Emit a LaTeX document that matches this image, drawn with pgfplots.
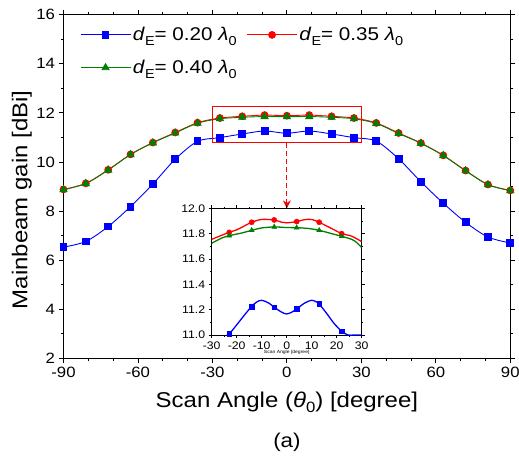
\documentclass[border=0pt]{standalone}
\usepackage{fontspec}
\setmainfont[FakeStretch=1.12]{Liberation Sans}
\usepackage{pgfplots}
\pgfplotsset{compat=1.18}
\usetikzlibrary{arrows.meta}
\definecolor{oBlue}{RGB}{0,0,255}
\definecolor{oRed}{RGB}{255,0,0}
\definecolor{oGreen}{RGB}{0,128,0}
% Origin-style low subscripts
\newcommand{\lsub}[1]{\raisebox{-4.5bp}{\fontsize{13}{14}\selectfont #1}}
\newcommand{\dE}[1]{\textit{d}\lsub{E}= #1 \textit{λ}\lsub{0}}

\begin{document}
\begin{tikzpicture}
\useasboundingbox (-63.5bp,-106.7bp) rectangle (455.5bp,358.3bp);
\begin{axis}[
    name=main,
    at={(0,0)}, anchor=south west,
    scale only axis, width=446.8bp, height=343.6bp,
    xmin=-90, xmax=90, ymin=2, ymax=16,
    xtick={-90,-60,-30,0,30,60,90},
    ytick={2,4,6,8,10,12,14,16},
    minor x tick num=2, minor y tick num=1,
    tick align=outside,
    major tick length=5bp, minor tick length=3bp,
    axis line style={line width=0.8bp},
    every tick/.style={line width=0.8bp, black},
    /pgf/number format/assume math mode=true,
    tick label style={font=\fontsize{15}{18}\selectfont},
    xlabel={Scan Angle (\textit{θ}\raisebox{-5bp}{\fontsize{15}{16}\selectfont 0}) [degree]},
    ylabel={Mainbeam gain [dBi]},
    label style={font=\fontsize{21.5}{24}\selectfont},
    xlabel style={at={(axis description cs:0.5,-0.144)}, anchor=base},
    ylabel style={at={(axis description cs:-0.093,0.461)}, anchor=center},
    legend columns=2,
    legend cell align=left,
    legend style={draw=none, fill=none,
        at={(axis description cs:0.03,0.975)}, anchor=north west,
        font=\fontsize{18.5}{22}\selectfont,
        row sep=14bp,
        /tikz/every even column/.append style={column sep=8bp}},
    legend image code/.code={
        \draw[mark repeat=2, mark phase=2, #1] plot coordinates {(0bp,0bp) (25bp,0bp) (50bp,0bp)};},
]
\addplot[oBlue, line width=0.9bp, smooth, mark=square*, mark size=3.4bp, mark options={solid}] coordinates {
    (-90,6.53)(-81,6.76)(-72,7.37)(-63,8.18)(-54,9.10)(-45,10.11)(-36,10.84)(-27,10.99)(-18,11.14)(-9,11.26)
    (0,11.17)(9,11.26)(18,11.14)(27,10.99)(36,10.85)(45,10.13)(54,9.19)(63,8.32)(72,7.54)(81,6.94)(90,6.70)
};
\addplot[oRed, line width=0.9bp, smooth, mark=*, mark size=3.4bp, mark options={solid}] coordinates {
    (-90,8.88)(-81,9.13)(-72,9.68)(-63,10.31)(-54,10.79)(-45,11.20)(-36,11.60)(-27,11.79)(-18,11.86)(-9,11.91)
    (0,11.885)(9,11.91)(18,11.86)(27,11.79)(36,11.59)(45,11.18)(54,10.77)(63,10.27)(72,9.65)(81,9.08)(90,8.84)
};
\addplot[oGreen, line width=0.9bp, smooth, mark=triangle*, mark size=4bp, mark options={solid}] coordinates {
    (-90,8.87)(-81,9.12)(-72,9.67)(-63,10.30)(-54,10.78)(-45,11.18)(-36,11.58)(-27,11.76)(-18,11.82)(-9,11.85)
    (0,11.845)(9,11.85)(18,11.82)(27,11.76)(36,11.57)(45,11.16)(54,10.76)(63,10.26)(72,9.64)(81,9.07)(90,8.83)
};
\legend{\dE{0.20}, \dE{0.35}, \dE{0.40}}
\draw[oRed, line width=0.8bp] (axis cs:-30,10.78) rectangle (axis cs:30,12.28);
\draw[oRed, line width=0.9bp, dash pattern=on 5bp off 3bp, -{Stealth[length=8bp,width=8bp]}] (axis cs:0,10.78) -- (axis cs:0,8.11);
\end{axis}

\begin{axis}[
    at={(148.2bp,23.3bp)}, anchor=south west,
    scale only axis, width=150bp, height=126.7bp,
    xmin=-30, xmax=30, ymin=11, ymax=12,
    xtick={-30,-20,-10,0,10,20,30},
    ytick={11,11.2,11.4,11.6,11.8,12},
    yticklabel style={/pgf/number format/.cd, fixed, fixed zerofill, precision=1},
    minor x tick num=1, minor y tick num=1,
    tick align=outside,
    major tick length=3bp, minor tick length=1.5bp,
    axis line style={line width=0.8bp},
    every tick/.style={line width=0.6bp, black},
    axis background/.style={fill=white},
    /pgf/number format/assume math mode=true,
    tick label style={font=\fontsize{11}{12}\selectfont},
    xlabel={Scan Angle [degree]},
    xlabel style={font=\fontsize{4.5}{5}\selectfont, at={(axis description cs:0.5,-0.14)}, anchor=center},
]
\addplot[oBlue, line width=1.3bp, smooth] coordinates {
    (-24,11.0)(-23,11.008)(-20,11.08)(-17,11.155)(-14,11.226)(-12,11.26)(-10,11.274)(-7,11.25)(-5,11.219)(-2,11.18)
    (0,11.166)(2,11.18)(4,11.205)(7,11.25)(10,11.274)(12,11.26)(13,11.245)(16,11.17)(19,11.09)(22,11.03)(24.5,11.0)(27,11.0)(30,11.0)
};
\addplot[oBlue, only marks, mark=square*, mark size=2.4bp] coordinates {
    (-23,11.008)(-14,11.226)(-5,11.219)(4,11.205)(13,11.245)(22,11.03)
};
\addplot[oRed, line width=1.3bp, smooth] coordinates {
    (-30,11.755)(-25,11.795)(-23,11.81)(-20,11.83)(-17,11.86)(-14,11.89)(-10,11.912)(-5,11.908)(-2,11.89)
    (0,11.885)(4,11.895)(7,11.91)(10,11.912)(13,11.89)(16,11.86)(19,11.83)(22,11.80)(26,11.78)(30,11.737)
};
\addplot[oRed, only marks, mark=*, mark size=2.6bp] coordinates {
    (-23,11.81)(-14,11.89)(-5,11.908)(4,11.895)(13,11.89)(22,11.80)
};
\addplot[oGreen, line width=1.3bp, smooth] coordinates {
    (-30,11.724)(-26,11.765)(-23,11.784)(-18,11.805)(-14,11.826)(-10,11.845)(-5,11.853)
    (0,11.848)(4,11.847)(9,11.84)(13,11.826)(18,11.80)(22,11.779)(26,11.755)(28,11.73)(30,11.69)
};
\addplot[oGreen, only marks, mark=triangle*, mark size=2.9bp] coordinates {
    (-23,11.784)(-14,11.826)(-5,11.853)(4,11.847)(13,11.826)(22,11.779)
};
\end{axis}
\node[anchor=base, font=\fontsize{20}{24}\selectfont] at (223.4bp,-89bp) {(a)};
\end{tikzpicture}
\end{document}
